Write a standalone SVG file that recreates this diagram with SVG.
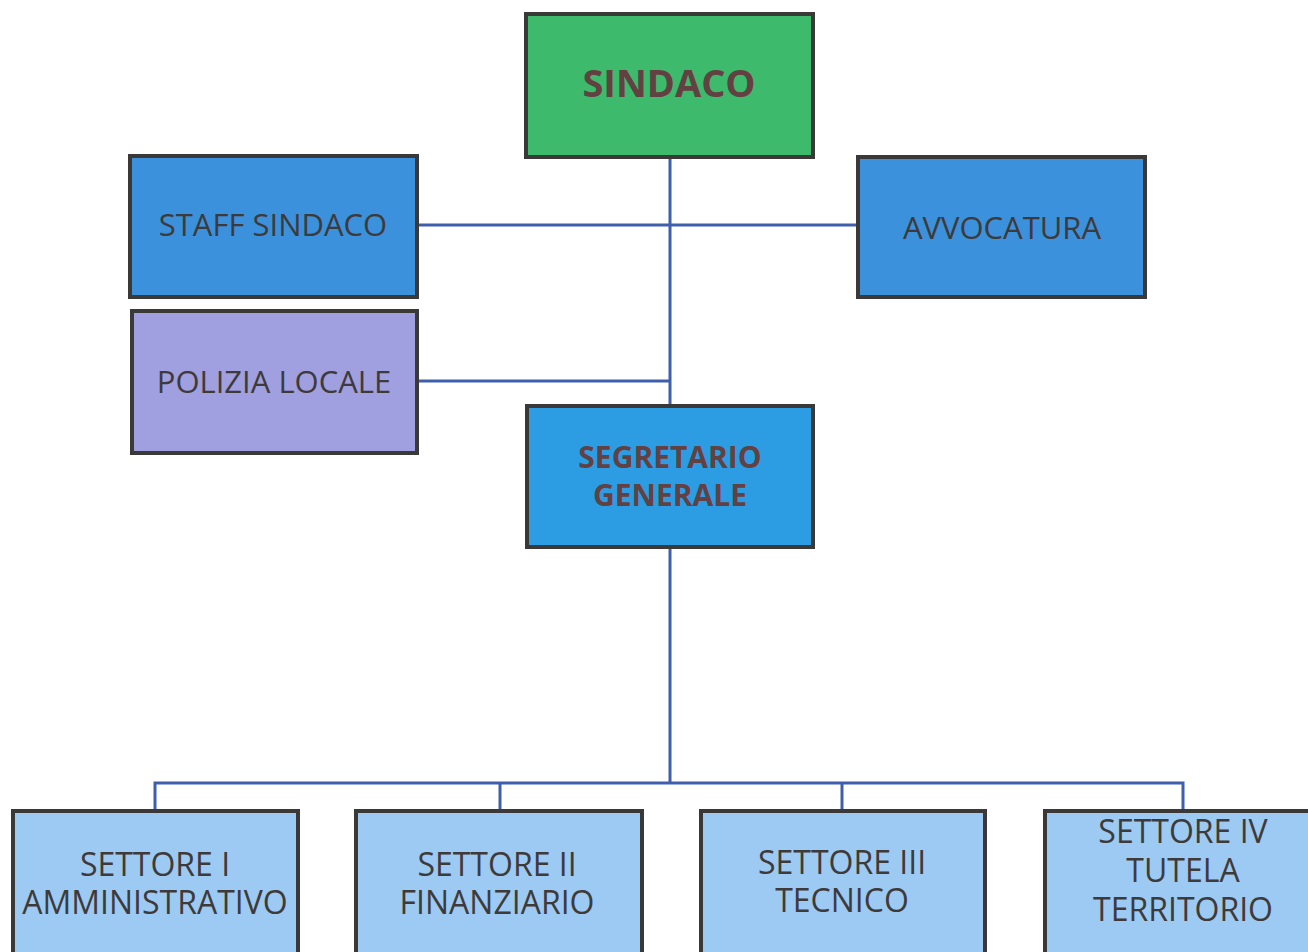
<svg xmlns="http://www.w3.org/2000/svg" width="1308" height="952" viewBox="0 0 1308 952">
<style>
.box{stroke:#3b3838;stroke-width:4}
.t{font-family:"Open Sans","Liberation Sans",sans-serif;font-size:31px;fill:#3f3a3a;text-anchor:middle}
.s{font-size:32px}
.b{font-family:"Open Sans","Liberation Sans",sans-serif;font-weight:bold;fill:#634042;text-anchor:middle}
.c{stroke:#3f5fad;stroke-width:3;fill:none}
</style>
<rect width="1308" height="952" fill="#ffffff"/>
<g id="connectors">
<line class="c" x1="670" y1="157" x2="670" y2="783"/>
<line class="c" x1="417" y1="225" x2="858" y2="225"/>
<line class="c" x1="417" y1="381" x2="670" y2="381"/>
<polyline class="c" points="155,811 155,783 1183,783 1183,811"/>
<line class="c" x1="500" y1="783" x2="500" y2="811"/>
<line class="c" x1="842" y1="783" x2="842" y2="811"/>
</g>
<g id="sindaco">
<rect class="box" x="526" y="14" width="287" height="143" fill="#3dba6b"/>
<text class="b" x="669" y="97" font-size="38">SINDACO</text>
</g>
<g id="staff-sindaco">
<rect class="box" x="130" y="156" width="287" height="141" fill="#3b91db"/>
<text class="t" x="273" y="236">STAFF SINDACO</text>
</g>
<g id="avvocatura">
<rect class="box" x="858" y="157" width="287" height="140" fill="#3b91db"/>
<text class="t" x="1002" y="239">AVVOCATURA</text>
</g>
<g id="polizia-locale">
<rect class="box" x="132" y="311" width="285" height="142" fill="#a09fe0"/>
<text class="t" x="274" y="393">POLIZIA LOCALE</text>
</g>
<g id="segretario-generale">
<rect class="box" x="527" y="406" width="286" height="141" fill="#2c9de2"/>
<text class="b" x="670" y="468" font-size="30">SEGRETARIO</text>
<text class="b" x="670" y="506" font-size="30">GENERALE</text>
</g>
<g id="settore-1">
<rect class="box" x="13" y="811" width="285" height="145" fill="#9ccaf2"/>
<text class="t s" x="155" y="876">SETTORE I</text>
<text class="t s" x="155" y="914">AMMINISTRATIVO</text>
</g>
<g id="settore-2">
<rect class="box" x="356" y="811" width="286" height="145" fill="#9ccaf2"/>
<text class="t s" x="497" y="876">SETTORE II</text>
<text class="t s" x="497" y="914">FINANZIARIO</text>
</g>
<g id="settore-3">
<rect class="box" x="701" y="811" width="284" height="145" fill="#9ccaf2"/>
<text class="t s" x="842" y="874">SETTORE III</text>
<text class="t s" x="842" y="912">TECNICO</text>
</g>
<g id="settore-4">
<rect class="box" x="1045" y="811" width="285" height="145" fill="#9ccaf2"/>
<text class="t s" x="1183" y="843">SETTORE IV</text>
<text class="t s" x="1183" y="882">TUTELA</text>
<text class="t s" x="1183" y="921">TERRITORIO</text>
</g>
</svg>
